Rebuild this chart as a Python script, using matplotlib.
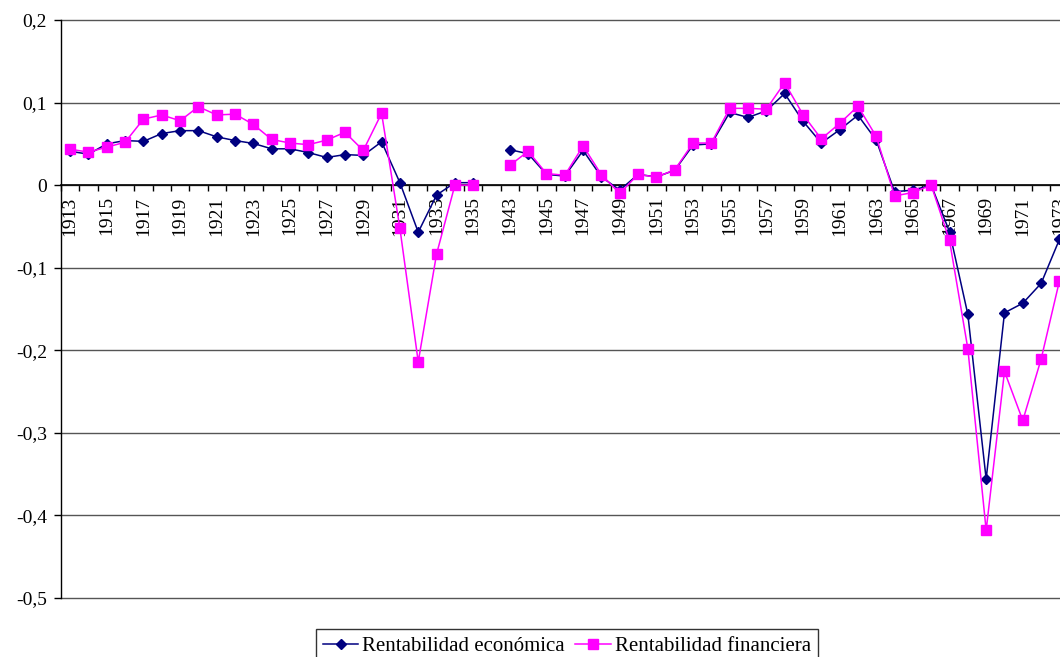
import numpy as np
import matplotlib.pyplot as plt
from matplotlib.ticker import FuncFormatter

# categories (one empty slot between 1935 and 1943)
years = [str(y) for y in range(1913, 1936)] + [""] + [str(y) for y in range(1943, 1974)]

# Rentabilidad económica
economica = [0.041, 0.0375, 0.050, 0.054, 0.053, 0.0625, 0.066, 0.066, 0.0585, 0.054,
             0.0505, 0.044, 0.044, 0.0395, 0.0335, 0.037, 0.036, 0.0525, 0.003, -0.057,
             -0.012, 0.003, 0.003,
             None,
             0.043, 0.038, 0.013, 0.011, 0.042, 0.010, -0.006, 0.013, 0.010, 0.018,
             0.0485, 0.050, 0.088, 0.082, 0.090, 0.111, 0.0775, 0.051, 0.067, 0.0847,
             0.0545, -0.008, -0.006, 0.0, -0.0565, -0.1565, -0.356, -0.1546, -0.143, -0.119,
             -0.0657]

# Rentabilidad financiera
financiera = [0.0435, 0.040, 0.046, 0.052, 0.080, 0.085, 0.078, 0.095, 0.085, 0.086,
              0.0735, 0.0553, 0.051, 0.049, 0.0545, 0.064, 0.042, 0.087, -0.0525, -0.214,
              -0.0835, 0.0, 0.0,
              None,
              0.024, 0.041, 0.014, 0.012, 0.0475, 0.0125, -0.010, 0.013, 0.0097, 0.0185,
              0.051, 0.051, 0.093, 0.093, 0.092, 0.124, 0.0855, 0.056, 0.0747, 0.0956,
              0.059, -0.013, -0.009, 0.0, -0.067, -0.198, -0.418, -0.2256, -0.285, -0.2107,
              -0.116]

eco = np.array([np.nan if v is None else v for v in economica])
fin = np.array([np.nan if v is None else v for v in financiera])
x = np.arange(len(years))

plt.rcParams['font.family'] = ['Liberation Serif', 'DejaVu Serif']

fig = plt.figure(figsize=(10.6, 6.57), dpi=100)
# plot area runs past the right edge of the picture, like the original
ax = fig.add_axes([61/1060, 1-598/657, 55*18.32/1060, 578/657])

ax.plot(x, eco, color='#000080', lw=1.1, marker='D', markersize=5.5,
        label='Rentabilidad económica', zorder=3)
ax.plot(x, fin, color='#FF00FF', lw=1.1, marker='s', markersize=6.5,
        label='Rentabilidad financiera', zorder=3)

ax.set_xlim(-0.5, len(years) - 0.5)
ax.set_ylim(-0.5, 0.2)

# y axis
ax.set_yticks(np.arange(-0.5, 0.21, 0.1))
ax.yaxis.set_major_formatter(FuncFormatter(
    lambda v, p: "0" if abs(v) < 1e-9 else f"{v:.1f}".replace('.', ',')))
ax.tick_params(axis='y', direction='out', length=5, width=1, labelsize=14, pad=5)
ax.yaxis.grid(True, color='#555555', lw=1)
for gl in ax.get_ygridlines():
    gl.set_clip_on(False)
ax.set_axisbelow(True)

# category axis on the zero line
ax.spines['bottom'].set_position(('data', 0))
ax.spines['top'].set_visible(False)
ax.spines['right'].set_visible(False)
ax.spines['left'].set_linewidth(1)
ax.spines['bottom'].set_linewidth(1.2)
ax.set_xticks(np.arange(-0.5, len(years), 1))
ax.set_xticklabels([])
ax.tick_params(axis='x', which='major', direction='out', length=4, width=1)
lab_idx = [i for i in range(0, len(years), 2)]
ax.set_xticks(lab_idx, minor=True)
ax.set_xticklabels([years[i] for i in lab_idx], minor=True, rotation=90, fontsize=14)
ax.tick_params(axis='x', which='minor', length=0, pad=8)

leg = fig.legend(loc='upper center', bbox_to_anchor=(567/1060, 1-629/657), ncol=2,
                 fontsize=15, frameon=True, fancybox=False, edgecolor='black',
                 handlelength=1.7, handletextpad=0.2, columnspacing=0.5,
                 borderpad=0.35, borderaxespad=0)
leg.get_frame().set_linewidth(1)

plt.savefig("out.png", dpi=100)
